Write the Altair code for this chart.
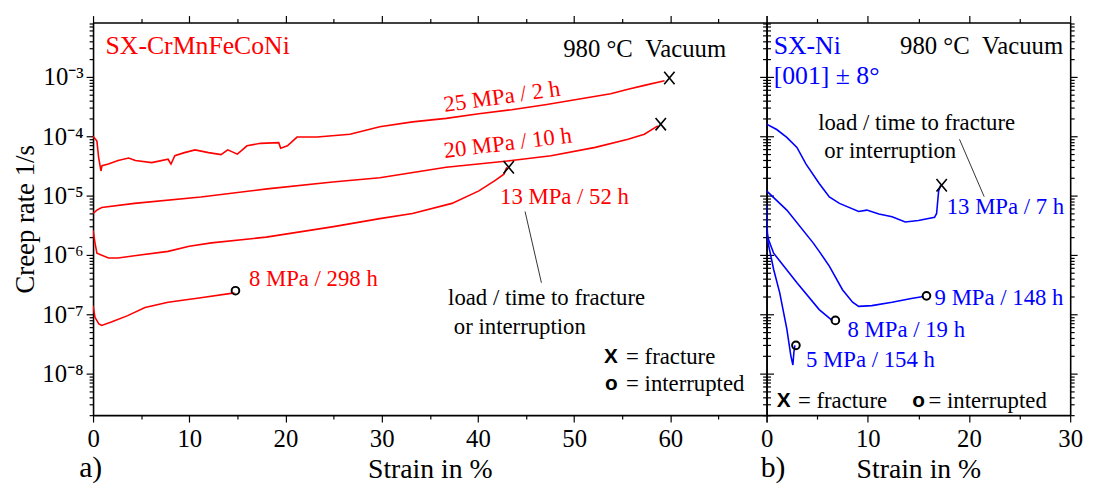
import altair as alt
import pandas as pd

FONT = "'Liberation Serif', 'Times New Roman', serif"
SANS = "'Liberation Sans', Arial, sans-serif"
RED = "#ff0000"
BLUE = "#0000ff"

# ---------------- data: left panel (SX-CrMnFeCoNi, 980 C) ----------------
l25_x = [0.0, 0.4, 0.57, 0.82, 0.93, 1.6, 2.6, 3.7, 4.4, 6.1, 7.8, 8.1, 8.5, 9.5, 10.6, 12.0,
         13.3, 14.0, 15.0, 16.0, 17.4, 19.3, 19.5, 20.2, 21.2, 23.3, 26.7, 29.8, 33.2, 36.7,
         40.1, 43.5, 47.0, 50.4, 53.8, 55.6, 57.3, 59.4]
l25_y = [1.0e-4, 8.3e-5, 4.5e-5, 2.6e-5, 3.2e-5, 3.4e-5, 3.9e-5, 4.3e-5, 3.9e-5, 3.6e-5, 4.1e-5,
         3.4e-5, 4.7e-5, 5.3e-5, 5.9e-5, 5.3e-5, 4.9e-5, 5.9e-5, 5.0e-5, 6.9e-5, 7.6e-5, 7.8e-5,
         6.3e-5, 6.9e-5, 9.7e-5, 9.7e-5, 1.08e-4, 1.45e-4, 1.75e-4, 2.0e-4, 2.4e-4, 2.8e-4,
         3.4e-4, 4.2e-4, 5.2e-4, 6.2e-4, 7.2e-4, 8.6e-4]
l20_x = [0.0, 0.4, 0.9, 4.3, 11.2, 18.1, 24.9, 29.8, 36.7, 43.5, 47.6, 52.2, 55.6, 57.3, 58.7]
l20_y = [5.0e-6, 5.7e-6, 6.3e-6, 7.4e-6, 9.5e-6, 1.3e-5, 1.7e-5, 2.0e-5, 3.0e-5, 3.9e-5, 4.7e-5,
         6.5e-5, 8.9e-5, 1.08e-4, 1.5e-4]
l13_x = [0.0, 0.2, 0.4, 1.6, 2.6, 4.3, 7.8, 10.0, 12.3, 18.0, 25.0, 29.8, 33.2, 37.3, 40.1,
         41.8, 42.7, 43.0]
l13_y = [2.6e-6, 1.6e-6, 1.07e-6, 8.9e-7, 8.9e-7, 9.7e-7, 1.15e-6, 1.4e-6, 1.6e-6, 2.0e-6,
         3.0e-6, 4.1e-6, 5.0e-6, 7.4e-6, 1.2e-5, 1.8e-5, 2.3e-5, 3.0e-5]
l08_x = [0.0, 0.2, 0.6, 0.9, 1.9, 3.6, 5.4, 7.8, 11.2, 14.7]
l08_y = [1.4e-7, 8.9e-8, 6.9e-8, 6.5e-8, 7.4e-8, 9.5e-8, 1.3e-7, 1.6e-7, 1.9e-7, 2.3e-7]

# ---------------- data: right panel (SX-Ni, 980 C) ----------------
r13_x = [0.0, 1.0, 2.0, 3.0, 3.9, 5.2, 6.2, 7.2, 9.1, 9.9, 11.1, 12.4, 13.7, 15.0, 16.6, 16.8,
         17.0, 17.2]
r13_y = [1.6e-4, 1.3e-4, 9.6e-5, 6.5e-5, 3.4e-5, 1.6e-5, 9.5e-6, 7.4e-6, 5.4e-6, 5.7e-6, 4.9e-6,
         4.4e-6, 3.6e-6, 3.8e-6, 4.3e-6, 5.0e-6, 1.2e-5, 1.5e-5]
r09_x = [0.0, 2.0, 4.6, 5.2, 6.2, 7.5, 8.5, 9.1, 10.4, 12.4, 14.3, 15.5]
r09_y = [1.2e-5, 5.7e-6, 1.6e-6, 1.15e-6, 6.5e-7, 2.6e-7, 1.6e-7, 1.36e-7, 1.4e-7, 1.6e-7,
         1.85e-7, 2.0e-7]
r08_x = [0.0, 0.2, 0.7, 3.0, 5.2, 6.5]
r08_y = [2.5e-6, 1.8e-6, 1.07e-6, 3.4e-7, 1.2e-7, 7.8e-8]
r05_x = [0.0, 0.05, 0.15, 0.7, 1.3, 2.0, 2.4, 2.6, 2.7, 2.8]
r05_y = [7.0e-6, 3.0e-6, 1.6e-6, 5.7e-7, 2.3e-7, 5.7e-8, 2.0e-8, 1.4e-8, 2.3e-8, 3.0e-8]

# fracture (X) and interruption (o) end points
l_frac_x = [59.9, 59.0, 43.2]
l_frac_y = [9.6e-4, 1.6e-4, 3.0e-5]
l_int_x = [14.8]
l_int_y = [2.5e-7]
r_frac_x = [17.3]
r_frac_y = [1.5e-5]
r_int_x = [15.8, 6.8, 2.9]
r_int_y = [2.05e-7, 7.9e-8, 3.0e-8]

Y_DOMAIN = [2.0e-9, 8.25e-3]
W1, W2, H = 681, 307, 397
NB = "\u00a0"


def curves(pairs):
    frames = []
    for name, xs, ys in pairs:
        frames.append(pd.DataFrame({"series": name, "i": list(range(len(xs))),
                                    "strain": xs, "rate": ys}))
    return pd.concat(frames, ignore_index=True)


left_df = curves([("25", l25_x, l25_y), ("20", l20_x, l20_y),
                  ("13", l13_x, l13_y), ("8", l08_x, l08_y)])
right_df = curves([("13", r13_x, r13_y), ("9", r09_x, r09_y),
                   ("8", r08_x, r08_y), ("5", r05_x, r05_y)])

y_ticks = [float(f"{k}e{d}") for d in range(-9, -1) for k in range(1, 10)]
y_ticks = [v for v in y_ticks if Y_DOMAIN[0] <= v <= Y_DOMAIN[1]]

Y_MAJ = "abs(log(datum.value)/LN10 - round(log(datum.value)/LN10)) < 0.001"
SUP = "['\u2070','\u00b9','\u00b2','\u00b3','\u2074','\u2075','\u2076','\u2077','\u2078','\u2079']"
Y_LABEL = f"({Y_MAJ}) ? '10\u207b' + {SUP}[-round(log(datum.value)/LN10)] : ''"


def x_axis(maxv, labels=True, orient="bottom"):
    kw = dict(values=list(range(0, maxv + 1, 5)), orient=orient, grid=False,
              tickSize={"condition": {"test": "datum.value % 10 == 0", "value": 7}, "value": 4},
              tickColor="black", tickWidth=1.2, domainColor="black", domainWidth=1.6,
              labelFont=FONT, labelFontSize=25, labelColor="black", labelPadding=5,
              labelOverlap=False, labelFlush=False,
              titleFont=FONT, titleFontSize=28, titleFontWeight="normal", titleColor="black",
              titlePadding=4)
    if labels:
        if maxv == 30:
            kw["labelExpr"] = "(datum.value % 10 == 0) ? datum.label : ''"
        else:
            kw["labelExpr"] = f"(datum.value % 10 == 0 && datum.value < {maxv}) ? datum.label : ''"
    else:
        kw["labels"] = False
    return alt.Axis(**kw)


def y_axis(labels=True, orient="left"):
    kw = dict(values=y_ticks, orient=orient, grid=False,
              tickSize={"condition": {"test": Y_MAJ, "value": 7}, "value": 4},
              tickColor="black", tickWidth=1.2, domainColor="black", domainWidth=1.6,
              labelFont=FONT, labelFontSize=25, labelColor="black", labelPadding=3,
              labelOverlap=False, labelFlush=False,
              titleFont=FONT, titleFontSize=27, titleFontWeight="normal", titleColor="black",
              titlePadding=3)
    if labels:
        kw["labelExpr"] = Y_LABEL
    else:
        kw["labels"] = False
    return alt.Axis(**kw)


def panel(df, color, xmax, width, fx, fy, ix, iy, texts, rules, ylabels, xtitle, ytitle, tag):
    xs = alt.Scale(domain=[0, xmax], nice=False, zero=False)
    ys = alt.Scale(type="log", domain=Y_DOMAIN, nice=False)
    X = lambda f: alt.X(f, type="quantitative", axis=None)
    Y = lambda f: alt.Y(f, type="quantitative", axis=None)
    lines = alt.Chart(df).mark_line(color=color, strokeWidth=1.6, clip=True).encode(
        x=alt.X("strain:Q", scale=xs, axis=x_axis(xmax), title=xtitle),
        y=alt.Y("rate:Q", scale=ys, axis=y_axis(labels=ylabels), title=ytitle),
        detail="series:N",
        order="i:Q",
    )
    mirror = alt.Chart(pd.DataFrame({"strain": [fx[0]], "rate": [fy[0]]})).mark_point(
        opacity=0).encode(
        x=alt.X("strain:Q", scale=xs, axis=x_axis(xmax, labels=False, orient="top"), title=""),
        y=alt.Y("rate:Q", scale=ys, axis=y_axis(labels=False, orient="right"), title=""),
    )
    frac = alt.Chart(pd.DataFrame({"strain": fx, "rate": fy})).mark_point(
        shape="M-1,-1.2L1,1.2M-1,1.2L1,-1.2", filled=False, color="black", strokeWidth=1.6,
        size=110, opacity=1).encode(x=X("strain"), y=Y("rate"))
    intr = alt.Chart(pd.DataFrame({"strain": ix, "rate": iy})).mark_point(
        shape="circle", filled=False, color="black", strokeWidth=2, size=60, opacity=1).encode(
        x=X("strain"), y=Y("rate"))
    layers = [lines, mirror, frac, intr]
    for (tx, ty, txt, col, size, font, weight, align, angle) in texts:
        layers.append(alt.Chart(pd.DataFrame({"strain": [tx], "rate": [ty], "t": [txt]})).mark_text(
            color=col, fontSize=size, font=font, fontWeight=weight, align=align,
            baseline="middle", angle=angle).encode(x=X("strain"), y=Y("rate"), text="t:N"))
    for (x1, y1, x2, y2) in rules:
        layers.append(alt.Chart(pd.DataFrame({"strain": [x1], "rate": [y1], "s2": [x2], "r2": [y2]})).mark_rule(
            color="#333333", strokeWidth=1).encode(x=X("strain"), y=Y("rate"), x2="s2:Q", y2="r2:Q"))
    layers.append(alt.Chart(pd.DataFrame({"t": [tag]})).mark_text(
        fontSize=30, font=FONT, color="black", align="left", baseline="middle").encode(
        x=alt.value(-14 if tag == "a)" else -6), y=alt.value(H + 54), text="t:N"))
    return alt.layer(*layers).resolve_axis(x="independent", y="independent").properties(
        width=width, height=H)


left_texts = [
    (1.3, 3.3e-3, "SX-CrMnFeCoNi", RED, 26, FONT, "normal", "left", 0),
    (65.8, 3.0e-3, f"980 \u00b0C{NB}{NB}Vacuum", "black", 25, FONT, "normal", "right", 0),
    (42.5, 4.6e-4, "25 MPa / 2 h", RED, 23, FONT, "normal", "center", 352),
    (43.1, 7.6e-5, "20 MPa / 10 h", RED, 23, FONT, "normal", "center", 353),
    (42.3, 9.6e-6, "13 MPa / 52 h", RED, 23, FONT, "normal", "left", 0),
    (16.2, 4.0e-7, "8 MPa / 298 h", RED, 23, FONT, "normal", "left", 0),
    (36.9, 1.9e-7, "load / time to fracture", "black", 23, FONT, "normal", "left", 0),
    (37.5, 6.1e-8, "or interruption", "black", 23, FONT, "normal", "left", 0),
    (53.1, 1.92e-8, "X", "black", 21, SANS, "bold", "left", 0),
    (55.4, 1.92e-8, "= fracture", "black", 23, FONT, "normal", "left", 0),
    (53.2, 6.56e-9, "o", "black", 21, SANS, "bold", "left", 0),
    (55.4, 6.56e-9, "= interrupted", "black", 23, FONT, "normal", "left", 0),
]
left_rules = [(44.9, 5.4e-6, 46.6, 3.4e-7)]

right_texts = [
    (0.7, 3.3e-3, "SX-Ni", BLUE, 26, FONT, "normal", "left", 0),
    (0.7, 1.05e-3, "[001] \u00b1 8\u00b0", BLUE, 26, FONT, "normal", "left", 0),
    (29.3, 3.3e-3, f"980 \u00b0C{NB}{NB}Vacuum", "black", 25, FONT, "normal", "right", 0),
    (5.1, 1.7e-4, "load / time to fracture", "black", 23, FONT, "normal", "left", 0),
    (5.7, 5.6e-5, "or interruption", "black", 23, FONT, "normal", "left", 0),
    (17.8, 6.5e-6, "13 MPa / 7 h", BLUE, 23, FONT, "normal", "left", 0),
    (16.6, 1.9e-7, "9 MPa / 148 h", BLUE, 23, FONT, "normal", "left", 0),
    (8.0, 5.5e-8, "8 MPa / 19 h", BLUE, 23, FONT, "normal", "left", 0),
    (3.9, 1.7e-8, "5 MPa / 154 h", BLUE, 23, FONT, "normal", "left", 0),
    (1.0, 3.4e-9, "X", "black", 21, SANS, "bold", "left", 0),
    (3.1, 3.4e-9, "= fracture", "black", 23, FONT, "normal", "left", 0),
    (14.4, 3.4e-9, "o", "black", 21, SANS, "bold", "left", 0),
    (16.0, 3.4e-9, "= interrupted", "black", 23, FONT, "normal", "left", 0),
]
right_rules = [(19.06, 8.9e-5, 21.5, 9.6e-6)]

left = panel(left_df, RED, 70, W1, l_frac_x, l_frac_y, l_int_x, l_int_y, left_texts,
             left_rules, True, "Strain in %", "Creep rate 1/s", "a)")
right = panel(right_df, BLUE, 30, W2, r_frac_x, r_frac_y, r_int_x, r_int_y, right_texts,
              right_rules, False, "Strain in %", "", "b)")

chart = alt.hconcat(left, right, spacing=0, bounds="flush").properties(
    padding={"left": 3, "top": 0, "right": 5, "bottom": 5}
).configure_view(stroke=None).configure_axis(
    labelFont=FONT, titleFont=FONT
).configure_text(font=FONT)

chart.save("out.html", embed_options={"renderer": "svg", "actions": False})
